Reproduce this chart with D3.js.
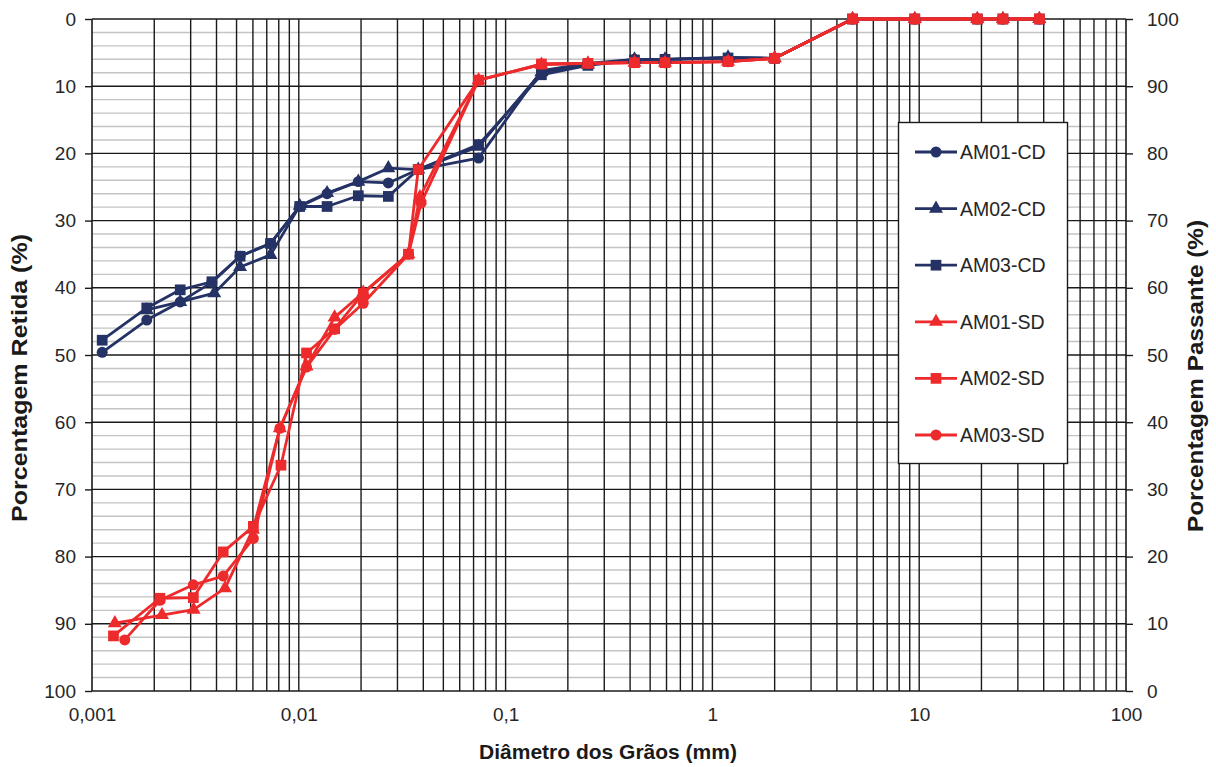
<!DOCTYPE html>
<html>
<head>
<meta charset="utf-8">
<script src="https://cdn.jsdelivr.net/npm/d3@7/dist/d3.min.js"></script>
<style>
  html, body { margin: 0; padding: 0; background: #fff; }
  svg { display: block; font-family: "Liberation Sans", Arial, sans-serif; }
</style>
</head>
<body>
<svg id="chart" width="1216" height="767"></svg>
<script>
// Grain-size distribution: sieve + sedimentation, with (CD) and without (SD) dispersant

// Sieve openings (mm), shared by every sample
const sieveDiam = [0.074, 0.149, 0.25, 0.42, 0.59, 1.19, 2.0, 4.76, 9.52, 19.1, 25.4, 38.1];

// Sedimentation diameters (mm) and % retained, per sample
const am01cdDiam = [0.00112, 0.00184, 0.00267, 0.0038, 0.0052, 0.0073, 0.0101, 0.0137, 0.0194, 0.0271, 0.0378];
const am01cdSed  = [49.6, 44.8, 42.1, 39.2, 35.3, 33.4, 27.9, 26.0, 24.2, 24.4, 22.4];
const am01cdSieve = [20.7, 7.7, 6.6, 6.0, 6.0, 5.8, 5.85, 0, 0, 0, 0, 0];

const am02cdDiam = [0.00184, 0.00267, 0.0039, 0.0052, 0.0073, 0.0101, 0.0137, 0.0194, 0.0271, 0.0378];
const am02cdSed  = [43.3, 42.1, 40.8, 36.9, 35.1, 27.8, 25.9, 24.2, 22.2, 22.4];
const am02cdSieve = [19.0, 7.9, 6.8, 6.0, 6.0, 5.7, 5.85, 0, 0, 0, 0, 0];

const am03cdDiam = [0.00112, 0.00184, 0.00267, 0.0038, 0.0052, 0.0073, 0.0101, 0.0137, 0.0194, 0.0271, 0.0378];
const am03cdSed  = [47.8, 43.0, 40.3, 39.1, 35.3, 33.4, 27.9, 27.9, 26.3, 26.4, 22.4];
const am03cdSieve = [18.7, 8.3, 6.9, 6.1, 6.0, 5.8, 5.85, 0, 0, 0, 0, 0];

const am01sdDiam = [0.00129, 0.00218, 0.0031, 0.0044, 0.0060, 0.0081, 0.0109, 0.0149, 0.0205, 0.0339, 0.0385];
const am01sdSed  = [89.9, 88.7, 87.9, 84.7, 76.0, 60.9, 51.7, 44.4, 40.7, 35.0, 26.5];
const am01sdSieve = [9.1, 6.8, 6.6, 6.5, 6.5, 6.35, 5.85, 0, 0, 0, 0, 0];

const am02sdDiam = [0.00127, 0.00213, 0.00309, 0.00431, 0.00603, 0.0082, 0.0109, 0.0149, 0.0205, 0.0339, 0.0378];
const am02sdSed  = [91.8, 86.2, 86.1, 79.3, 75.5, 66.4, 49.7, 46.1, 40.8, 35.0, 22.4];
const am02sdSieve = [9.1, 6.7, 6.6, 6.5, 6.5, 6.35, 5.85, 0, 0, 0, 0, 0];

const am03sdDiam = [0.00144, 0.00213, 0.00309, 0.00431, 0.00603, 0.0081, 0.0109, 0.0149, 0.0205, 0.0339, 0.039];
const am03sdSed  = [92.4, 86.5, 84.2, 82.9, 77.3, 60.9, 51.8, 46.2, 42.3, 35.0, 27.4];
const am03sdSieve = [9.1, 6.7, 6.6, 6.5, 6.5, 6.35, 5.85, 0, 0, 0, 0, 0];

const seriesNames = ["AM01-CD", "AM02-CD", "AM03-CD", "AM01-SD", "AM02-SD", "AM03-SD"];

const xTickLabels = ["0,001", "0,01", "0,1", "1", "10", "100"];
const xTickValues = [0.001, 0.01, 0.1, 1, 10, 100];
const yTickValues = [0, 10, 20, 30, 40, 50, 60, 70, 80, 90, 100];

const BLUE = "#243265";
const RED = "#ED2A2C";

function build(diam, sed, sieve) {
  const pts = diam.map((d, i) => ({ d: d, v: sed[i] }));
  sieveDiam.forEach((d, i) => pts.push({ d: d, v: sieve[i] }));
  return pts;
}

const series = [
  { name: seriesNames[0], color: BLUE, shape: d3.symbolCircle,   size: 95,  pts: build(am01cdDiam, am01cdSed, am01cdSieve) },
  { name: seriesNames[1], color: BLUE, shape: d3.symbolTriangle, size: 85,  pts: build(am02cdDiam, am02cdSed, am02cdSieve) },
  { name: seriesNames[2], color: BLUE, shape: d3.symbolSquare,   size: 115, pts: build(am03cdDiam, am03cdSed, am03cdSieve) },
  { name: seriesNames[3], color: RED,  shape: d3.symbolTriangle, size: 85,  pts: build(am01sdDiam, am01sdSed, am01sdSieve) },
  { name: seriesNames[4], color: RED,  shape: d3.symbolSquare,   size: 115, pts: build(am02sdDiam, am02sdSed, am02sdSieve) },
  { name: seriesNames[5], color: RED,  shape: d3.symbolCircle,   size: 95,  pts: build(am03sdDiam, am03sdSed, am03sdSieve) }
];

const svg = d3.select("#chart");
const L = 92, R = 1126, T = 19, B = 691;

const x = d3.scaleLog().domain([0.001, 100]).range([L, R]);
const y = d3.scaleLinear().domain([0, 100]).range([T, B]);
const yRight = d3.scaleLinear().domain([100, 0]).range([T, B]);

// horizontal minor grid (every 2 %)
const minorY = d3.range(0, 101, 2).filter(v => v % 10 !== 0);
svg.append("g").selectAll("line").data(minorY).join("line")
  .attr("x1", L).attr("x2", R)
  .attr("y1", d => y(d)).attr("y2", d => y(d))
  .attr("stroke", "#c4c4c4").attr("stroke-width", 1.4);

// vertical log grid (1..9 per decade)
const logTicks = x.ticks().filter(t => t > 0.001 && t < 100);
svg.append("g").selectAll("line").data(logTicks).join("line")
  .attr("x1", d => x(d)).attr("x2", d => x(d))
  .attr("y1", T).attr("y2", B)
  .attr("stroke", "#1a1a1a").attr("stroke-width", 1.4);

// horizontal major grid
svg.append("g").selectAll("line").data(yTickValues).join("line")
  .attr("x1", L).attr("x2", R)
  .attr("y1", d => y(d)).attr("y2", d => y(d))
  .attr("stroke", "#1a1a1a").attr("stroke-width", 1.4);

// frame sides
svg.append("line").attr("x1", L).attr("x2", L).attr("y1", T).attr("y2", B)
  .attr("stroke", "#1a1a1a").attr("stroke-width", 1.6);
svg.append("line").attr("x1", R).attr("x2", R).attr("y1", T).attr("y2", B)
  .attr("stroke", "#1a1a1a").attr("stroke-width", 1.6);

// left axis
const leftAxis = svg.append("g").attr("transform", `translate(${L},0)`)
  .call(d3.axisLeft(y).tickValues(yTickValues).tickSize(7).tickPadding(9).tickFormat(d3.format("d")));
// right axis
const rightAxis = svg.append("g").attr("transform", `translate(${R},0)`)
  .call(d3.axisRight(yRight).tickValues(yTickValues).tickSize(7).tickPadding(14).tickFormat(d3.format("d")));
// bottom axis labels
const bottomAxis = svg.append("g").attr("transform", `translate(0,${B})`)
  .call(d3.axisBottom(x).tickValues(xTickValues).tickSize(0).tickPadding(17)
    .tickFormat((d, i) => xTickLabels[i]));

[leftAxis, rightAxis, bottomAxis].forEach(g => {
  g.select(".domain").remove();
  g.selectAll(".tick line").attr("stroke", "#1a1a1a").attr("stroke-width", 1.4);
  g.selectAll(".tick text").attr("fill", "#262626")
    .style("font-size", "19px").style("font-family", "'Liberation Sans', Arial, sans-serif");
});

// axis titles
svg.append("text")
  .attr("transform", "translate(27,378) rotate(-90)")
  .attr("text-anchor", "middle")
  .attr("textLength", 288).attr("lengthAdjust", "spacingAndGlyphs")
  .style("font-size", "22px").style("font-weight", "bold").attr("fill", "#1a1a1a")
  .text("Porcentagem Retida (%)");
svg.append("text")
  .attr("transform", "translate(1203,376) rotate(-90)")
  .attr("text-anchor", "middle")
  .attr("textLength", 312).attr("lengthAdjust", "spacingAndGlyphs")
  .style("font-size", "22px").style("font-weight", "bold").attr("fill", "#1a1a1a")
  .text("Porcentagem Passante (%)");
svg.append("text")
  .attr("x", 608).attr("y", 759)
  .attr("text-anchor", "middle")
  .style("font-size", "21px").style("font-weight", "bold").attr("fill", "#1a1a1a")
  .text("Diâmetro dos Grãos (mm)");

// series
const line = d3.line().x(p => x(p.d)).y(p => y(p.v));
const gSeries = svg.append("g");
series.forEach(s => {
  gSeries.append("path").datum(s.pts)
    .attr("d", line).attr("fill", "none")
    .attr("stroke", s.color).attr("stroke-width", 2.8).attr("stroke-linejoin", "round");
});
series.forEach(s => {
  gSeries.append("g").selectAll("path").data(s.pts).join("path")
    .attr("transform", p => `translate(${x(p.d)},${y(p.v)})`)
    .attr("d", d3.symbol().type(s.shape).size(s.size))
    .attr("fill", s.color);
});

// legend
const lg = svg.append("g");
lg.append("rect").attr("x", 898.5).attr("y", 122.5).attr("width", 169).attr("height", 341)
  .attr("fill", "#fff").attr("stroke", "#1a1a1a").attr("stroke-width", 1.4);
series.forEach((s, i) => {
  const cy = 152 + i * 56.6;
  lg.append("line").attr("x1", 915).attr("x2", 957).attr("y1", cy).attr("y2", cy)
    .attr("stroke", s.color).attr("stroke-width", 2.8);
  lg.append("path").attr("transform", `translate(936,${cy})`)
    .attr("d", d3.symbol().type(s.shape).size(s.size)).attr("fill", s.color);
  lg.append("text").attr("x", 960).attr("y", cy + 7)
    .style("font-size", "19.5px").attr("fill", "#262626")
    .text(s.name);
});
</script>
</body>
</html>
